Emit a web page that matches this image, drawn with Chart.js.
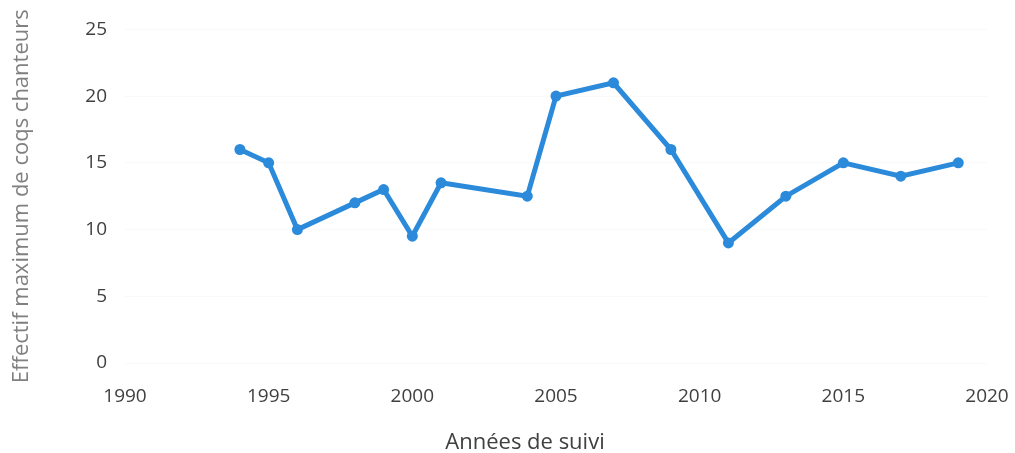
<!DOCTYPE html>
<html>
<head>
<meta charset="utf-8">
<script src="https://cdn.jsdelivr.net/npm/chart.js@4/dist/chart.umd.min.js"></script>
<style>
    html, body { margin: 0; padding: 0; background: #ffffff; }
    #wrap { width: 1015px; height: 453px; }
</style>
</head>
<body>
<div id="wrap"><canvas id="coqsChart"></canvas></div>
<script>
// Data
const years = [1994, 1995, 1996, 1998, 1999, 2000, 2001, 2004, 2005, 2007, 2009, 2011, 2013, 2015, 2017, 2019];
const coqs = [16, 15, 10, 12, 13, 9.5, 13.5, 12.5, 20, 21, 16, 9, 12.5, 15, 14, 15];

const xTitle = 'Années de suivi';
const yTitle = 'Effectif maximum de coqs chanteurs';

const lineColor = '#2b8ad9';
const textColor = '#404040';

const points = years.map((year, i) => ({ x: year, y: coqs[i] }));

// x axis title sits a bit left of the plot centre in the original
const xTitlePlugin = {
    id: 'xTitlePlugin',
    afterDraw(chart) {
        const { ctx, chartArea } = chart;
        ctx.save();
        ctx.fillStyle = textColor;
        ctx.font = '22px "Open Sans"';
        ctx.textAlign = 'center';
        ctx.textBaseline = 'middle';
        ctx.fillText(xTitle, (chartArea.left + chartArea.right) / 2 - 31, chart.height - 10);
        ctx.restore();
    }
};

const ctx = document.getElementById('coqsChart').getContext('2d');

new Chart(ctx, {
    type: 'line',
    data: {
        datasets: [{
            label: 'Coqs chanteurs',
            data: points,
            borderColor: lineColor,
            backgroundColor: lineColor,
            borderWidth: 5,
            pointRadius: 5.5,
            pointBorderWidth: 0,
            tension: 0
        }]
    },
    options: {
        responsive: true,
        maintainAspectRatio: false,
        animation: false,
        layout: {
            padding: { top: 29, right: 28, bottom: 0, left: 0 }
        },
        scales: {
            x: {
                type: 'linear',
                min: 1990,
                max: 2020,
                afterFit: (scale) => {
                    scale.height = 90;
                    scale.paddingLeft = 0;
                    scale.paddingRight = 0;
                },
                ticks: {
                    stepSize: 5,
                    color: textColor,
                    padding: 22,
                    font: { family: 'Open Sans', size: 19 },
                    callback: (value) => String(value)
                },
                grid: { display: false, drawTicks: false },
                border: { display: false }
            },
            y: {
                min: 0,
                max: 25,
                afterFit: (scale) => { scale.width = 125; },
                ticks: {
                    stepSize: 5,
                    color: textColor,
                    padding: 18,
                    font: { family: 'Open Sans', size: 19 }
                },
                grid: {
                    color: 'rgba(0, 0, 0, 0.025)',
                    drawTicks: false
                },
                border: { display: false },
                title: {
                    display: true,
                    text: yTitle,
                    color: '#808080',
                    font: { family: 'Open Sans', size: 22 },
                    padding: { top: 9, bottom: 0 }
                }
            }
        },
        plugins: {
            legend: { display: false },
            tooltip: { enabled: false }
        }
    },
    plugins: [xTitlePlugin]
});
</script>
</body>
</html>
